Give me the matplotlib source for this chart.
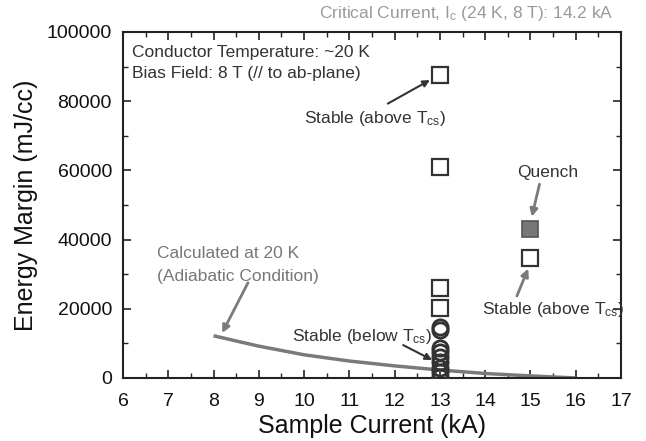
import matplotlib
matplotlib.use("Agg")
import matplotlib.pyplot as plt
from matplotlib.ticker import MultipleLocator

plt.rcParams['font.family'] = ['Liberation Sans', 'DejaVu Sans']
plt.rcParams['mathtext.fontset'] = 'custom'
plt.rcParams['mathtext.rm'] = 'Liberation Sans'
plt.rcParams['mathtext.it'] = 'Liberation Sans'

# Data
stable_above_13_x = [13, 13, 13, 13]
stable_above_13_y = [87600, 61000, 26000, 20200]
stable_below_x = [13, 13, 13, 13, 13, 13, 13, 13, 13]
stable_below_y = [14600, 14000, 8800, 7400, 6000, 4600, 3000, 1600, 400]
quench_x = [15]
quench_y = [43200]
stable_above_15_x = [15]
stable_above_15_y = [34800]
calc_x = [8, 9, 10, 11, 12, 13, 14, 15, 16]
calc_y = [12200, 9200, 6700, 4900, 3500, 2300, 1300, 600, 0]

fig = plt.figure(figsize=(6.46, 4.41), dpi=100)
ax = fig.add_axes([0.1904, 0.1429, 0.7709, 0.7846])

ax.plot(calc_x, calc_y, color='#7a7a7a', lw=2.5, solid_capstyle='butt', zorder=2)
ax.plot(stable_below_x, stable_below_y, 'o', ms=11, mfc='none', mec='#333333', mew=2.0, zorder=3)
ax.plot(stable_above_13_x, stable_above_13_y, 's', ms=11, mfc='white', mec='#333333', mew=1.6, zorder=3)
ax.plot(stable_above_15_x, stable_above_15_y, 's', ms=11, mfc='white', mec='#333333', mew=1.6, zorder=3)
ax.plot(quench_x, quench_y, 's', ms=11, mfc='#777777', mec='#555555', mew=1.2, zorder=3)

ax.set_xlim(6, 17)
ax.set_ylim(0, 100000)
ax.xaxis.set_major_locator(MultipleLocator(1))
ax.xaxis.set_minor_locator(MultipleLocator(0.5))
ax.yaxis.set_major_locator(MultipleLocator(20000))
ax.yaxis.set_minor_locator(MultipleLocator(10000))
ax.tick_params(which='both', direction='in', top=True, right=True, colors='#222222', labelcolor='#111111')
ax.tick_params(which='major', length=6, width=1.2, labelsize=14)
ax.tick_params(which='minor', length=3.5, width=1.0)
ax.tick_params(axis='x', pad=11)
ax.tick_params(axis='y', pad=8)
for s in ax.spines.values():
    s.set_linewidth(1.5)
    s.set_color('#222222')

ax.set_xlabel('Sample Current (kA)', fontsize=18, color='#111111', labelpad=3)
ax.set_ylabel('Energy Margin (mJ/cc)', fontsize=18, color='#111111', labelpad=6)

fs = 12.5
txt = '#333333'
ax.text(6.2, 94200, 'Conductor Temperature: ~20 K', fontsize=fs, color=txt, va='center')
ax.text(6.2, 88100, 'Bias Field: 8 T (// to ab-plane)', fontsize=fs, color=txt, va='center')
fig.text(0.949, 0.97, r'Critical Current, I$_{c}$ (24 K, 8 T): 14.2 kA', fontsize=fs,
         color='#9a9a9a', ha='right', va='center')

ap = dict(arrowstyle='-|>', color='#333333', lw=1.5, mutation_scale=10, shrinkA=0, shrinkB=0)
apg = dict(arrowstyle='-|>', color='#7a7a7a', lw=2.0, mutation_scale=11, shrinkA=0, shrinkB=0)

ax.text(11.57, 75100, r'Stable (above T$_{cs}$)', fontsize=fs, color=txt, ha='center', va='center')
ax.annotate('', xy=(12.78, 86100), xytext=(11.85, 79300), arrowprops=ap)

ax.text(11.28, 12100, r'Stable (below T$_{cs}$)', fontsize=fs, color=txt, ha='center', va='center')
ax.annotate('', xy=(12.83, 5200), xytext=(12.19, 9500), arrowprops=ap)

ax.text(15.37, 59500, 'Quench', fontsize=fs, color=txt, ha='center', va='center')
ax.annotate('', xy=(15.03, 46600), xytext=(15.2, 56000), arrowprops=apg)

ax.text(15.5, 19650, r'Stable (above T$_{cs}$)', fontsize=fs, color=txt, ha='center', va='center')
ax.annotate('', xy=(14.95, 31600), xytext=(14.7, 23700), arrowprops=apg)

ax.text(6.75, 36100, 'Calculated at 20 K', fontsize=fs, color='#777777', ha='left', va='center')
ax.text(6.75, 29200, '(Adiabatic Condition)', fontsize=fs, color='#777777', ha='left', va='center')
ax.annotate('', xy=(8.19, 13000), xytext=(8.76, 27500), arrowprops=apg)

fig.savefig('out.png', dpi=100)
